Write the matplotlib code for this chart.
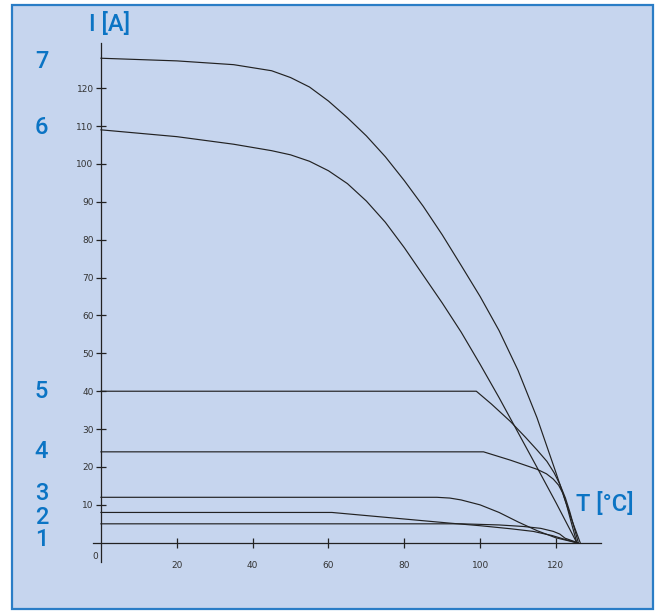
import matplotlib
matplotlib.use("Agg")
import matplotlib.pyplot as plt
from matplotlib.patches import Rectangle

W, H = 658, 611

# curves: temperature T [degC] and current I [A]
t1 = [0, 95, 105, 111.4, 116, 119.3, 121, 122.4, 125.8]
i1 = [5, 5, 4.7, 4.3, 3.8, 3.0, 2.3, 1.2, 0]

t2 = [0, 60.9, 91.8, 100, 108, 114, 119, 122, 125.5]
i2 = [8, 8, 5.2, 4.5, 3.7, 3.0, 1.9, 1.0, 0]

t3 = [0, 88.6, 92, 95, 100, 105, 110, 115, 120, 125.5]
i3 = [12, 12, 11.8, 11.3, 10, 8, 5.5, 3.2, 1.3, 0]

t4 = [0, 100.9, 108, 115, 117.5, 119.3, 120.7, 121.8, 122.8, 123.7, 125.5]
i4 = [24, 24, 21.8, 19.4, 18.2, 16.8, 15.2, 13.1, 10, 6.6, 0]

t5 = [0, 99, 103, 108, 112, 115, 117.6, 119.5, 121, 122.5, 123.7, 124.8, 125.9]
i5 = [40, 40, 36.6, 32, 27.8, 24.5, 21.5, 18.5, 15.5, 11.8, 8, 4, 0]

t6 = [0, 20, 35, 45, 50, 55, 60, 65, 70, 75, 80, 85, 90, 95, 100, 105, 110,
      115, 120, 125.5]
i6 = [109, 107.2, 105.2, 103.5, 102.4, 100.7, 98.2, 94.8, 90.2, 84.6, 77.9,
      70.6, 63.3, 55.6, 47.1, 38.3, 29.1, 19.9, 10.6, 0]

t7 = [0, 20, 35, 45, 50, 55, 60, 65, 70, 75, 80, 85, 90, 95, 100, 105, 110,
      115, 120, 124, 126.4]
i7 = [127.9, 127.2, 126.2, 124.6, 122.8, 120.3, 116.6, 112.2, 107.4, 101.9,
      95.6, 88.8, 81.3, 73.2, 65, 56, 45.5, 33, 18.5, 6.5, 0]

curves_t = [t1, t2, t3, t4, t5, t6, t7]
curves_i = [i1, i2, i3, i4, i5, i6, i7]
curve_names = ["1", "2", "3", "4", "5", "6", "7"]

x_ticks = [20, 40, 60, 80, 100, 120]
y_ticks = [10, 20, 30, 40, 50, 60, 70, 80, 90, 100, 110, 120]

blue = "#0b74c4"
ink = "#222222"

fig = plt.figure(figsize=(W / 100, H / 100), dpi=100)
fig.patch.set_facecolor("white")

# light blue panel with a blue frame, behind the axes
fig.patches.append(Rectangle((12 / W, 1 - 609 / H), 641 / W, 604 / H,
                             transform=fig.transFigure, facecolor="#c6d5ee",
                             edgecolor="#2a7dc6", linewidth=1.6, zorder=-5))

ax = fig.add_axes([93 / W, 1 - 561.7 / H, 507.7 / W, 519 / H])
ax.patch.set_visible(False)
ax.set_xlim(-2.1, 131.8)
ax.set_ylim(-5, 132)

for sp in ["top", "right"]:
    ax.spines[sp].set_visible(False)
ax.spines["left"].set_position(("data", 0))
ax.spines["bottom"].set_position(("data", 0))
for sp in ["left", "bottom"]:
    ax.spines[sp].set_color(ink)
    ax.spines[sp].set_linewidth(0.9)

for t, i in zip(curves_t, curves_i):
    ax.plot(t, i, color=ink, linewidth=0.85, solid_joinstyle="round")

ax.set_xticks(x_ticks)
ax.set_yticks(y_ticks)
ax.tick_params(axis="both", direction="inout", length=6.5, width=0.9,
               colors=ink, labelsize=6.5, labelcolor="#333333")
ax.tick_params(axis="x", pad=10)
ax.tick_params(axis="y", pad=2)
ax.text(-1.4, -3.5, "0", ha="center", va="center", fontsize=6.5, color="#333333")

big = dict(color=blue, fontsize=17, family="Roboto", weight="medium",
           ha="center", va="center")
fig.text(110 / W, 1 - 24 / H, "I [A]", **big)
fig.text(605 / W, 1 - 504 / H, "T [°C]", **big)

name_y = [540, 518, 494, 452, 391.5, 127, 61]
for name, y in zip(curve_names, name_y):
    fig.text(41.5 / W, 1 - y / H, name, **big)

fig.savefig("out.png", dpi=100)
